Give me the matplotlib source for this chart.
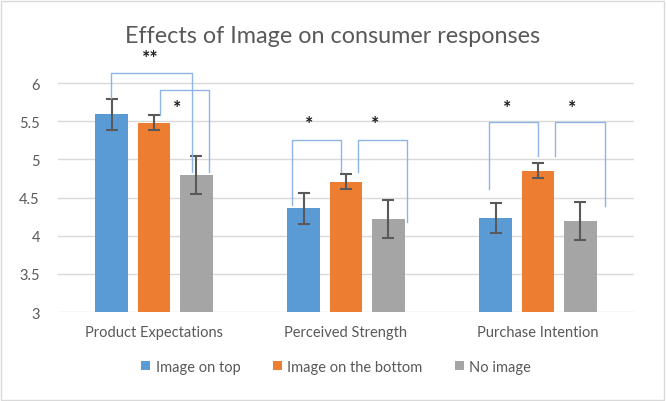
import matplotlib.pyplot as plt
import numpy as np
from matplotlib.patches import Rectangle

plt.rcParams['font.family'] = ['Lato', 'DejaVu Sans']

categories = ["Product Expectations", "Perceived Strength", "Purchase Intention"]
series = ["Image on top", "Image on the bottom", "No image"]
colors = ["#5B9BD5", "#ED7D31", "#A5A5A5"]

top_vals = [5.59, 4.36, 4.23]
bottom_vals = [5.48, 4.71, 4.85]
none_vals = [4.80, 4.22, 4.19]
top_err = [0.20, 0.20, 0.20]
bottom_err = [0.10, 0.10, 0.10]
none_err = [0.25, 0.25, 0.25]

# significance brackets: (group, x_left, y_left, x_right, y_right, y_top)
brackets = [
    (0, -0.225, 5.80, 0.200, 4.84, 6.13),
    (0, 0.030, 5.58, 0.285, 4.84, 5.91),
    (1, -0.282, 4.40, -0.026, 4.83, 5.26),
    (1, 0.060, 4.83, 0.316, 4.18, 5.26),
    (2, -0.253, 4.61, 0.000, 5.04, 5.49),
    (2, 0.090, 5.04, 0.350, 4.39, 5.49),
]
stars = [(0, -0.02, 6.34, "**"), (0, 0.12, 5.68, "*"),
         (1, -0.19, 5.47, "*"), (1, 0.15, 5.47, "*"),
         (2, -0.16, 5.68, "*"), (2, 0.18, 5.68, "*")]

fig = plt.figure(figsize=(6.66, 4.02), dpi=100)
ax = fig.add_axes([0.087, 0.221, 0.865, 0.646])

x = np.arange(len(categories))
w = 0.171
step = 0.22
vals = [top_vals, bottom_vals, none_vals]
errs = [top_err, bottom_err, none_err]
for i, (v, e) in enumerate(zip(vals, errs)):
    ax.bar(x + (i - 1) * step, np.array(v) - 3, width=w, bottom=3,
           color=colors[i], label=series[i], zorder=2)
    ax.errorbar(x + (i - 1) * step, v, yerr=e, fmt='none', ecolor='#595959',
                elinewidth=1.5, capsize=4, capthick=1.5, zorder=3)

for g, xl, yl, xr, yr, yt in brackets:
    ax.plot([g + xl, g + xl, g + xr, g + xr], [yl, yt, yt, yr],
            color='#8EB4E3', lw=1, zorder=4, clip_on=False)
for g, xs, ys, s in stars:
    ax.text(g + xs, ys, s, ha='center', va='center', fontsize=14,
            fontweight='bold', color='#1a1a1a', clip_on=False)

ax.set_xlim(-0.5, 2.5)
ax.set_ylim(3, 6.4)
ax.set_yticks([3, 3.5, 4, 4.5, 5, 5.5, 6])
ax.set_yticklabels(["3", "3.5", "4", "4.5", "5", "5.5", "6"])
ax.set_xticks(x)
ax.set_xticklabels(categories)
ax.tick_params(axis='both', length=0, labelsize=10.5, colors='#595959')
ax.tick_params(axis='y', pad=13)
ax.tick_params(axis='x', pad=9)
for yv in [3, 3.5, 4, 4.5, 5, 5.5, 6]:
    ax.axhline(yv, color='#D9D9D9', lw=1, zorder=1)
for s in ax.spines.values():
    s.set_visible(False)

fig.text(0.5, 0.908, "Effects of Image on consumer responses", ha='center',
         va='center', fontsize=16.8, color='#595959')

leg = fig.legend(loc='center', bbox_to_anchor=(0.505, 0.085), ncol=3,
                 frameon=False, fontsize=10.5, handlelength=0.6,
                 handleheight=0.6, handletextpad=0.4, columnspacing=2.2)
for t in leg.get_texts():
    t.set_color('#595959')

fig.patches.append(Rectangle((0.002, 0.003), 0.995, 0.993, transform=fig.transFigure,
                             fill=False, edgecolor='#D9D9D9', lw=1))

fig.savefig("out.png", dpi=100)
